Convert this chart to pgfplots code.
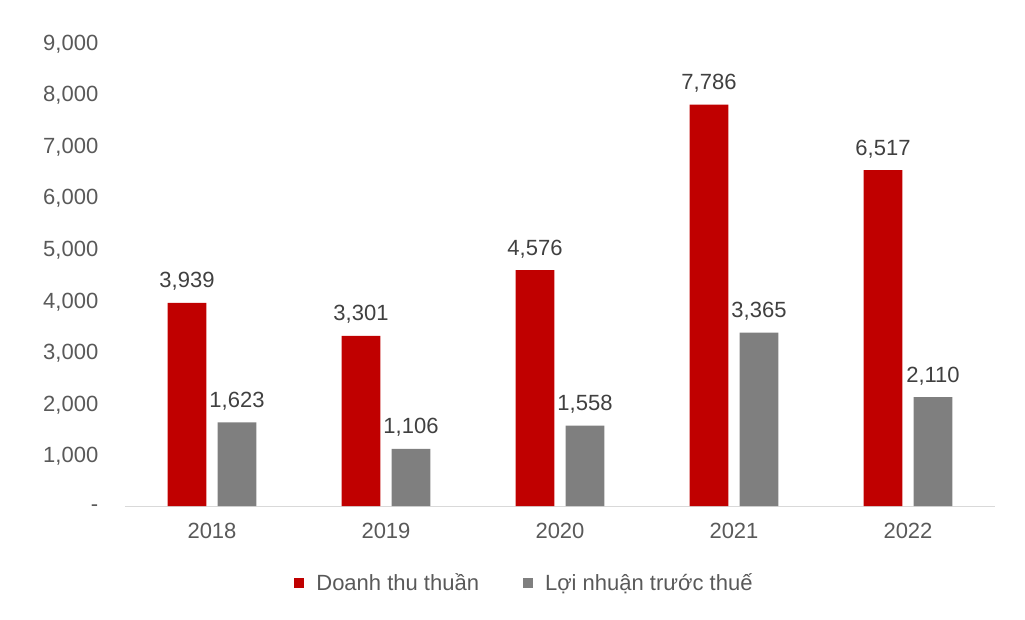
\documentclass[border=0pt]{standalone}
\usepackage{pgfplots}
\pgfplotsset{compat=1.18}
\usepackage{fontspec}
\setmainfont{Liberation Sans}
\definecolor{doanhthu}{HTML}{C00000}
\definecolor{loinhuan}{HTML}{7F7F7F}
\definecolor{ticktext}{HTML}{595959}
\definecolor{labeltext}{HTML}{404040}
\definecolor{axisgray}{HTML}{D9D9D9}
\begin{document}
\begin{tikzpicture}[font=\fontsize{16.5}{19}\selectfont]
\useasboundingbox (-93.75pt,-84.75pt) rectangle (675pt,379.5pt);
\begin{axis}[
  at={(0,0)}, anchor=south west,
  scale only axis, width=652.5pt, height=348pt,
  ybar, bar width=29pt,
  xmin=-0.5, xmax=4.5, ymin=0, ymax=9000,
  xtick=data, xticklabels={2018,2019,2020,2021,2022},
  ytick={0,1000,...,9000},
  yticklabels={{-\hspace{12pt}},{1,000},{2,000},{3,000},{4,000},{5,000},{6,000},{7,000},{8,000},{9,000}},
  major tick length=0pt,
  axis line style={draw=none},
  axis x line*=bottom, axis y line*=left,
  ytick style={draw=none}, xtick style={draw=none},
  tick label style={text=ticktext},
  yticklabel style={xshift=-16.5pt, yshift=-1.5pt},
  xticklabel style={yshift=-9pt},
  /pgf/number format/assume math mode=true,
  nodes near coords,
  nodes near coords style={anchor=base, yshift=11.25pt, text=labeltext,
    /pgf/number format/.cd, fixed, precision=0, 1000 sep={,}},
  legend style={draw=none, fill=none, legend columns=2, text=ticktext,
    at={(0.458,-0.166)}, anchor=center,
    /tikz/every even column/.append style={column sep=33pt},
    nodes={inner sep=0pt, text=ticktext}},
  legend image code/.code={\fill[#1] (0pt,-3.75pt) rectangle (7.5pt,3.75pt);},
]
\draw[axisgray, line width=0.75pt] (axis cs:-0.5,0) -- (axis cs:4.5,0);
\addplot[fill=doanhthu, draw=none, bar shift=-18.75pt] coordinates {
  (0,3939) (1,3301) (2,4576) (3,7786) (4,6517)};
\addplot[fill=loinhuan, draw=none, bar shift=18.75pt] coordinates {
  (0,1623) (1,1106) (2,1558) (3,3365) (4,2110)};
\legend{\hspace{9pt}Doanh thu thuần,\hspace{9pt}Lợi nhuận trước thuế}
\end{axis}
\end{tikzpicture}
\end{document}
